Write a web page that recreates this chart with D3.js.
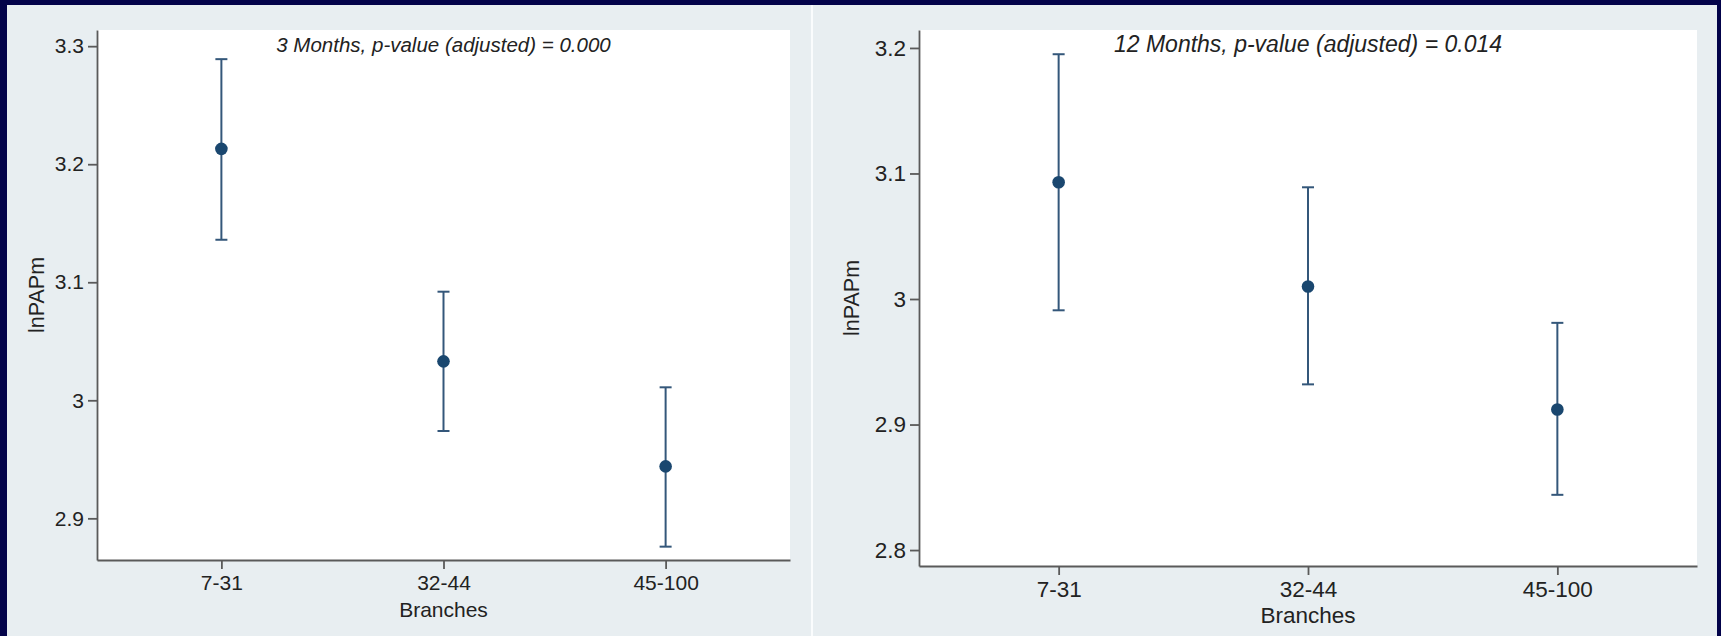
<!DOCTYPE html>
<html>
<head>
<meta charset="utf-8">
<script src="https://cdn.jsdelivr.net/npm/d3@7"></script>
<style>
  body { margin: 0; background: #03034a; }
  svg { display: block; font-family: "Liberation Sans", Arial, sans-serif; }
  .axis path, .axis line { stroke: #5a5a5a; stroke-width: 1.8; }
  .axis text { fill: #222; }
</style>
</head>
<body>
<svg width="1721" height="636"></svg>
<script>
// categories
const groups = ["7-31", "32-44", "45-100"];

// 3 months: mean lnPAPm with 95% CI
const mean3 = [3.213, 3.033, 2.944];
const lo3 = [3.136, 2.974, 2.876];
const hi3 = [3.289, 3.092, 3.011];
const ticks3 = [2.9, 3.0, 3.1, 3.2, 3.3];

// 12 months
const mean12 = [3.093, 3.010, 2.912];
const lo12 = [2.991, 2.932, 2.844];
const hi12 = [3.195, 3.089, 2.981];
const ticks12 = [2.8, 2.9, 3.0, 3.1, 3.2];

const titles = ["3 Months, p-value (adjusted) = 0.000", "12 Months, p-value (adjusted) = 0.014"];
const xTitle = "Branches";
const yTitle = "lnPAPm";

const svg = d3.select("svg");

// the right graph is a bit wider in the picture, so its text runs wider too
const panels = [
  { x0: 7, x1: 811, plot: { left: 97, right: 790, top: 30, bottom: 560 }, domain: [2.8647, 3.3137],
    mean: mean3, lo: lo3, hi: hi3, ticks: ticks3, title: titles[0], yTitleX: 44,
    fs: { tick: 21, title: 20.5, xt: 21 } },
  { x0: 813, x1: 1717, plot: { left: 919, right: 1697, top: 30, bottom: 566 }, domain: [2.7873, 3.2143],
    mean: mean12, lo: lo12, hi: hi12, ticks: ticks12, title: titles[1], yTitleX: 859,
    fs: { tick: 22.5, title: 23, xt: 22.5 } }
];

// thin white divider between the two graphs
svg.append("rect").attr("x", 811).attr("y", 5).attr("width", 2).attr("height", 631).attr("fill", "#fafcfd");

panels.forEach(p => {
  const g = svg.append("g");
  const pl = p.plot;

  g.append("rect")
    .attr("x", p.x0).attr("y", 5)
    .attr("width", p.x1 - p.x0).attr("height", 631)
    .attr("fill", "#e8eef1");

  g.append("rect")
    .attr("x", pl.left).attr("y", pl.top)
    .attr("width", pl.right - pl.left).attr("height", pl.bottom - pl.top)
    .attr("fill", "#ffffff");

  const x = d3.scalePoint().domain(groups).range([pl.left, pl.right]).padding(0.56);
  const y = d3.scaleLinear().domain(p.domain).range([pl.bottom, pl.top]);

  g.append("g")
    .attr("class", "axis")
    .attr("transform", "translate(" + pl.left + ",0)")
    .call(d3.axisLeft(y).tickValues(p.ticks).tickSize(9).tickSizeOuter(0).tickPadding(4)
      .tickFormat(d => String(+d.toFixed(1))));

  g.append("g")
    .attr("class", "axis")
    .attr("transform", "translate(0," + pl.bottom + ")")
    .call(d3.axisBottom(x).tickSize(9).tickSizeOuter(0).tickPadding(6));

  g.selectAll(".axis text").attr("font-family", null).attr("font-size", null)
    .style("font-size", p.fs.tick + "px");

  // axis titles
  g.append("text")
    .attr("x", (pl.left + pl.right) / 2)
    .attr("y", pl.bottom + 57)
    .attr("text-anchor", "middle")
    .attr("fill", "#222")
    .style("font-size", p.fs.xt + "px")
    .text(xTitle);

  g.append("text")
    .attr("transform", "translate(" + p.yTitleX + "," + ((pl.top + pl.bottom) / 2) + ") rotate(-90)")
    .attr("text-anchor", "middle")
    .attr("fill", "#222")
    .style("font-size", "21.5px")
    .text(yTitle);

  // title inside the plot
  g.append("text")
    .attr("x", (pl.left + pl.right) / 2)
    .attr("y", 52)
    .attr("text-anchor", "middle")
    .attr("fill", "#222")
    .style("font-size", p.fs.title + "px")
    .style("font-style", "italic")
    .text(p.title);

  // error bars
  const bars = g.append("g").attr("stroke", "#34577a").attr("stroke-width", 2);
  groups.forEach((c, i) => {
    const cx = x(c);
    bars.append("line").attr("x1", cx).attr("x2", cx).attr("y1", y(p.lo[i])).attr("y2", y(p.hi[i]));
    bars.append("line").attr("x1", cx - 6).attr("x2", cx + 6).attr("y1", y(p.lo[i])).attr("y2", y(p.lo[i]));
    bars.append("line").attr("x1", cx - 6).attr("x2", cx + 6).attr("y1", y(p.hi[i])).attr("y2", y(p.hi[i]));
  });

  g.selectAll(".pt")
    .data(groups)
    .enter().append("circle")
    .attr("class", "pt")
    .attr("cx", d => x(d))
    .attr("cy", (d, i) => y(p.mean[i]))
    .attr("r", 6.3)
    .attr("fill", "#1a476f");
});
</script>
</body>
</html>
